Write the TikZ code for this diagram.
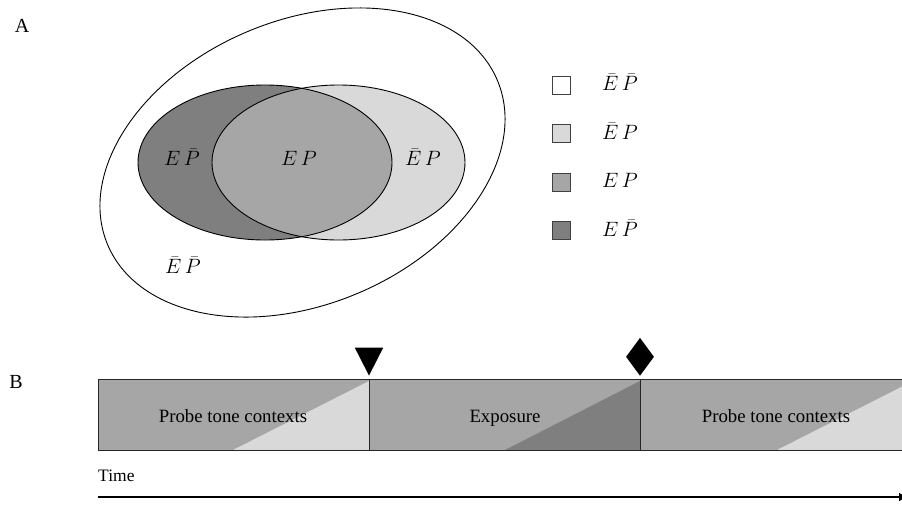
\documentclass[tikz,border=0pt]{standalone}
\usepackage{fontspec}
\setmainfont{Liberation Serif}
\usetikzlibrary{shapes.geometric,arrows.meta}
\definecolor{gLight}{HTML}{D9D9D9}
\definecolor{gMid}{HTML}{A6A6A6}
\definecolor{gDark}{HTML}{7F7F7F}
\definecolor{gEdge}{HTML}{404040}
\tikzset{
  mathlbl/.style={font=\fontsize{20}{22}\selectfont, inner sep=0pt},
  panellbl/.style={font=\fontsize{20}{22}\selectfont, inner sep=0pt},
  legbox/.style={draw=gEdge, line width=1pt, minimum size=18pt, inner sep=0pt},
  bartxt/.style={font=\fontsize{18.8}{20}\selectfont, inner sep=0pt, anchor=base},
  barbox/.style={draw=black!85, line width=0.9pt},
}
\begin{document}
\begin{tikzpicture}[x=1pt,y=-1pt]
\useasboundingbox (0,0) rectangle (902,504);
\begin{scope}
\clip (0,0) rectangle (902,504);
% ---------- Panel A ----------
\node[panellbl] (labA) at (22,26) {A};
% outer ellipse
\draw[line width=0.9pt] (302.5,162.5) ellipse [x radius=211.5pt, y radius=142pt, rotate=22.9];
% inner ellipses
\fill[gDark] (265,162.5) ellipse [x radius=127pt, y radius=77.5pt];
\fill[gLight] (338.5,162.5) ellipse [x radius=126.5pt, y radius=77.5pt];
\begin{scope}
\clip (265,162.5) ellipse [x radius=127pt, y radius=77.5pt];
\fill[gMid] (338.5,162.5) ellipse [x radius=126.5pt, y radius=77.5pt];
\end{scope}
\draw[line width=0.9pt] (265,162.5) ellipse [x radius=127pt, y radius=77.5pt];
\draw[line width=0.9pt] (338.5,162.5) ellipse [x radius=126.5pt, y radius=77.5pt];
\node[mathlbl] (lEPb) at (182,157) {$E\,\bar{P}$};
\node[mathlbl] (lEP) at (299,158) {$E\,P$};
\node[mathlbl] (lEbP) at (423,157) {$\bar{E}\,P$};
\node[mathlbl] (lEbPb) at (183,265) {$\bar{E}\,\bar{P}$};
% legend
\node[legbox, fill=white] (k1) at (561.5,85) {};
\node[legbox, fill=gLight] (k2) at (561.5,133.5) {};
\node[legbox, fill=gMid] (k3) at (561.5,182) {};
\node[legbox, fill=gDark] (k4) at (561.5,230.5) {};
\node[mathlbl, anchor=west] (t1) at (602,82) {$\bar{E}\,\bar{P}$};
\node[mathlbl, anchor=west] (t2) at (602,131) {$\bar{E}\,P$};
\node[mathlbl, anchor=west] (t3) at (602,180) {$E\,P$};
\node[mathlbl, anchor=west] (t4) at (602,228) {$E\,\bar{P}$};
% ---------- Panel B ----------
\node[panellbl] (labB) at (16,382) {B};
% box 1
\fill[gMid] (98,379) rectangle (369,450);
\fill[gLight] (233,450) -- (369,450) -- (369,381) -- cycle;
\draw[barbox] (98,379) rectangle (369,450);
% box 2
\fill[gMid] (369,379) rectangle (640,450);
\fill[gDark] (505,450) -- (640,450) -- (640,381) -- cycle;
\draw[barbox] (369,379) rectangle (640,450);
% box 3
\fill[gMid] (640,379) rectangle (913,450);
\fill[gLight] (777,450) -- (913,450) -- (913,381) -- cycle;
\draw[barbox] (640,379) rectangle (913,450);
\node[bartxt] (p1) at (233,422) {Probe tone contexts};
\node[bartxt] (ex) at (505,422) {Exposure};
\node[bartxt] (p2) at (776,422) {Probe tone contexts};
% markers
\node[draw=none, fill=black, isosceles triangle, shape border rotate=-90, isosceles triangle apex angle=54, minimum height=28pt, inner sep=0pt, anchor=apex] (tri) at (369,376) {};
\node[draw=none, fill=black, diamond, minimum width=28pt, minimum height=38pt, inner sep=0pt, anchor=south] (dia) at (640,376) {};
% time
\node[font=\fontsize{17.5}{19}\selectfont, anchor=west, inner sep=0pt] (time) at (98,476) {Time};
\coordinate (tstart) at (98,497);
\coordinate (tend) at (908,497);
\draw[line width=2.6pt, -{Latex[length=9pt,width=9pt]}] (tstart) -- (tend);
\end{scope}
\end{tikzpicture}
\end{document}
